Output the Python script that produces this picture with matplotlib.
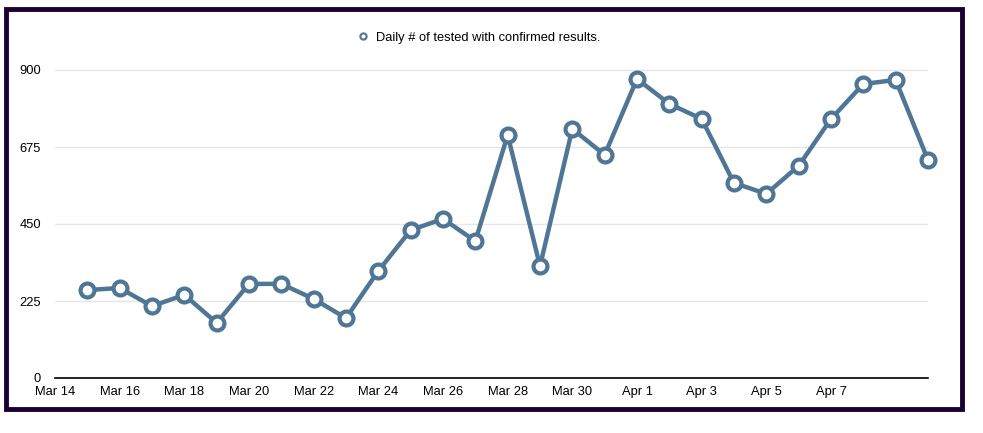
import datetime as dt
import matplotlib
matplotlib.use("Agg")
import matplotlib.pyplot as plt
import matplotlib.dates as mdates
from matplotlib.patches import Rectangle

plt.rcParams['font.family'] = ['Liberation Sans', 'DejaVu Sans']

# daily counts, Mar 15 .. Apr 10
start = dt.date(2020, 3, 15)
values = [257, 263, 210, 243, 161, 275, 275, 231, 175, 313, 432, 465, 400,
          710, 327, 728, 652, 874, 801, 757, 570, 538, 620, 757, 859, 871, 637]
dates = [start + dt.timedelta(days=i) for i in range(len(values))]
yticks = [0, 225, 450, 675, 900]
series_label = "Daily # of tested with confirmed results."

line_color = "#4f7694"

W, H = 983, 433
fig = plt.figure(figsize=(W / 100, H / 100), dpi=100)

# axes placed in pixel terms
left, right, bottom, top = 55, 928, 378, 50
ax = fig.add_axes([left / W, 1 - bottom / H, (right - left) / W, (bottom - top) / H])

ax.plot(dates, values, color=line_color, lw=3.2, marker="o", ms=10,
        mfc="white", mec=line_color, mew=3, zorder=3, clip_on=False,
        label=series_label)

ax.set_xlim(dt.date(2020, 3, 14), dt.date(2020, 4, 10))
ax.set_ylim(0, 900 * (bottom - top) / (bottom - 70))
ax.set_yticks(yticks)
ax.xaxis.set_major_locator(mdates.DayLocator(bymonthday=[14, 16, 18, 20, 22, 24, 26, 28, 30, 1, 3, 5, 7]))
ax.xaxis.set_major_formatter(plt.FuncFormatter(
    lambda x, pos: "{} {}".format(mdates.num2date(x).strftime("%b"), mdates.num2date(x).day)))

ax.grid(axis="y", color="#e6e6e6", lw=1)
ax.set_axisbelow(True)
for s in ["top", "right", "left"]:
    ax.spines[s].set_visible(False)
ax.spines["bottom"].set_color("black")
ax.spines["bottom"].set_linewidth(1.2)
ax.tick_params(axis="both", length=0, labelsize=9.3, colors="black")
ax.tick_params(axis="y", pad=10)
ax.tick_params(axis="x", pad=6)

leg = ax.legend(loc="upper center", bbox_to_anchor=(0.487, (H - 20) / H),
                bbox_transform=fig.transFigure, frameon=False, fontsize=9.3,
                markerscale=0.45, handlelength=0.8, handletextpad=0.6)
for h in leg.legend_handles:
    h.set_linestyle("none")
    h.set_markeredgewidth(1.5)

# dark outer frame
fig.patches.append(Rectangle((6 / W, 1 - 409 / H), (962 - 6) / W, (409 - 9) / H,
                             transform=fig.transFigure, fill=False,
                             edgecolor="#1a0033", lw=3.5))

fig.savefig("out.png", dpi=100)
